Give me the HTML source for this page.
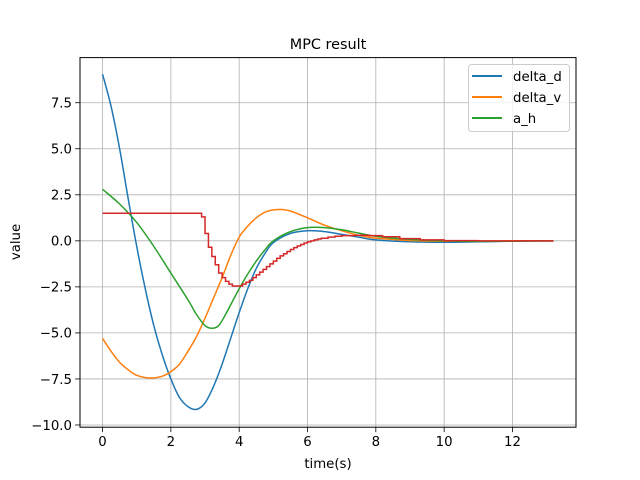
<!DOCTYPE html>
<html><head><meta charset="utf-8"><style>
body{margin:0;background:#fff}
svg{display:block;font-family:"DejaVu Sans","Liberation Sans",sans-serif}
</style></head><body>
<svg id="chart" width="640" height="480">
<rect width="640" height="480" fill="#fff"/>
<g id="grid"></g>
<g id="series"></g>
<rect x="80" y="57.6" width="496" height="369.6" fill="none" stroke="#000" stroke-width="1"/>
<g id="ticks"></g>
<text x="328" y="49" text-anchor="middle" font-size="14.4">MPC result</text>
<text x="328" y="468" text-anchor="middle" font-size="13.3">time(s)</text>
<text transform="translate(20,242) rotate(-90)" text-anchor="middle" font-size="13.3">value</text>
<g>
<rect x="468.5" y="64.5" width="101" height="67" rx="3" fill="#fff" fill-opacity="0.8" stroke="#ccc"/>
<g><line x1="472" x2="502" y1="76" y2="76" stroke="#1f77b4" stroke-width="2"/><text x="513" y="81" font-size="13.3">delta_d</text></g>
<g><line x1="472" x2="502" y1="97" y2="97" stroke="#ff7f0e" stroke-width="2"/><text x="513" y="102" font-size="13.3">delta_v</text></g>
<g><line x1="472" x2="502" y1="118" y2="118" stroke="#2ca02c" stroke-width="2"/><text x="513" y="123" font-size="13.3">a_h</text></g>
</g>
</svg>
<script>
const xTicks=[0,2,4,6,8,10,12];
const yTicks=[-10,-7.5,-5,-2.5,0,2.5,5,7.5];
const yTickLabels=["−10.0","−7.5","−5.0","−2.5","0.0","2.5","5.0","7.5"];
const tD=[0,0.25,0.5,0.75,1,1.25,1.5,1.75,2,2.25,2.5,2.75,3,3.25,3.5,3.75,4,4.25,4.5,4.75,5,5.5,6,6.5,7,7.5,8,9,10,11,12,13.2];
const deltaD=[9.05,7.3,5.0,2.3,-0.3,-2.6,-4.6,-6.2,-7.5,-8.5,-9.0,-9.15,-8.8,-7.9,-6.7,-5.3,-3.9,-2.6,-1.5,-0.7,-0.1,0.4,0.55,0.5,0.35,0.2,0.05,-0.05,-0.08,-0.05,-0.02,0];
const tV=[0,0.25,0.5,0.75,1,1.4,1.75,2,2.25,2.5,2.75,3,3.25,3.5,3.75,4,4.25,4.5,4.75,5,5.25,5.5,6,6.5,7,7.5,8,9,10,11,12,13.2];
const deltaV=[-5.3,-6.0,-6.6,-7.0,-7.3,-7.45,-7.35,-7.1,-6.7,-6.0,-5.2,-4.2,-3.1,-2.0,-0.8,0.2,0.8,1.25,1.55,1.68,1.7,1.62,1.25,0.85,0.55,0.3,0.15,0.02,-0.02,-0.02,0,0];
const tH=[0,0.5,1,1.5,2,2.5,2.75,3,3.2,3.4,3.6,3.8,4,4.25,4.5,4.75,5,5.5,6,6.5,7,7.5,8,9,10,11,12,13.2];
const aH=[2.8,2.0,1.0,-0.3,-1.75,-3.2,-4.0,-4.6,-4.75,-4.6,-4.0,-3.3,-2.6,-1.8,-1.1,-0.5,0.0,0.5,0.72,0.72,0.6,0.42,0.25,0.08,0.0,-0.03,-0.02,0];
const tR=[0,2.9,3.0,3.1,3.2,3.3,3.4,3.5,3.6,3.7,3.8,3.9,4.0,4.1,4.2,4.3,4.4,4.5,4.6,4.7,4.8,4.9,5.0,5.1,5.2,5.3,5.4,5.5,5.6,5.7,5.8,5.9,6.0,6.1,6.2,6.3,6.4,6.6,6.8,7.0,7.4,7.8,8.2,8.7,9.3,10,11,13.2];
const ctrl=[1.5,1.3,0.4,-0.35,-0.85,-1.3,-1.75,-2.0,-2.2,-2.35,-2.45,-2.45,-2.45,-2.35,-2.25,-2.15,-2.0,-1.85,-1.7,-1.55,-1.4,-1.25,-1.1,-0.95,-0.82,-0.7,-0.58,-0.47,-0.37,-0.28,-0.2,-0.12,-0.05,0.0,0.05,0.1,0.14,0.2,0.25,0.28,0.3,0.28,0.22,0.12,0.05,0.01,0,0];

const X0=80,X1=576,Y0=57.6,Y1=427.2,xmin=-0.66,xmax=13.86,ymin=-10.12,ymax=9.95;
const sx=v=>X0+(v-xmin)/(xmax-xmin)*(X1-X0);
const sy=v=>Y1-(v-ymin)/(ymax-ymin)*(Y1-Y0);
const NS='http://www.w3.org/2000/svg';
function mk(tag,attrs,parent){const e=document.createElementNS(NS,tag);for(const k in attrs)e.setAttribute(k,attrs[k]);parent.appendChild(e);return e;}
const grid=document.getElementById('grid'),ticks=document.getElementById('ticks'),ser=document.getElementById('series');
xTicks.forEach(v=>{const x=sx(v);
 const g=mk('line',{x1:x,x2:x,y1:Y0,y2:Y1,stroke:'#b0b0b0','stroke-width':0.8},grid);
 
 
 const t=mk('line',{x1:x,x2:x,y1:Y1,y2:Y1+4.9,stroke:'#000','stroke-width':0.8},ticks);
 
 
 const l=mk('text',{x:x,y:Y1+19,'text-anchor':'middle','font-size':13.3},ticks);l.textContent=String(v);
 
 
});
yTicks.forEach((v,i)=>{const y=sy(v);
 const g=mk('line',{x1:X0,x2:X1,y1:y,y2:y,stroke:'#b0b0b0','stroke-width':0.8},grid);
 
 
 const t=mk('line',{x1:X0-4.9,x2:X0,y1:y,y2:y,stroke:'#000','stroke-width':0.8},ticks);
 
 
 const l=mk('text',{x:X0-8,y:y+4.8,'text-anchor':'end','font-size':13.3},ticks);l.textContent=yTickLabels[i];
 
 
});
function smooth(ts,vs){const p=ts.map((t,i)=>[sx(t),sy(vs[i])]);let d='M'+p[0][0]+','+p[0][1];
 for(let i=0;i<p.length-1;i++){const a=p[i-1]||p[i],b=p[i],c=p[i+1],e=p[i+2]||c;
  d+=' C'+(b[0]+(c[0]-a[0])/6)+','+(b[1]+(c[1]-a[1])/6)+' '+(c[0]-(e[0]-b[0])/6)+','+(c[1]-(e[1]-b[1])/6)+' '+c[0]+','+c[1];}
 return d;}
function steps(ts,vs){let d='M'+sx(ts[0])+','+sy(vs[0]);for(let i=1;i<ts.length;i++){d+=' H'+sx(ts[i])+' V'+sy(vs[i]);}return d;}
const pd=mk('path',{d:smooth(tD,deltaD),fill:'none',stroke:'#1f77b4','stroke-width':1.5},ser);


const pv=mk('path',{d:smooth(tV,deltaV),fill:'none',stroke:'#ff7f0e','stroke-width':1.5},ser);


const ph=mk('path',{d:smooth(tH,aH),fill:'none',stroke:'#2ca02c','stroke-width':1.5},ser);


const pr=mk('path',{d:steps(tR,ctrl),fill:'none',stroke:'#d62728','stroke-width':1.5},ser);


</script>
</body></html>
